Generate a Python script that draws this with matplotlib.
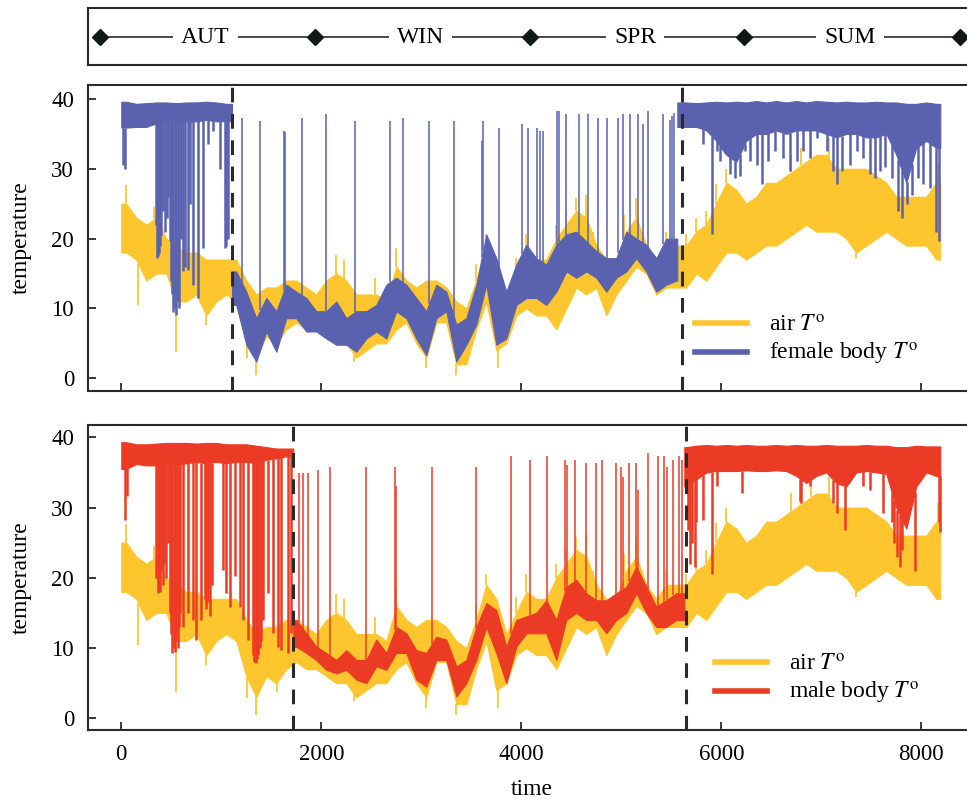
import numpy as np
import matplotlib
matplotlib.use("Agg")
import matplotlib.pyplot as plt
from matplotlib.lines import Line2D

plt.rcParams["font.family"] = ["Liberation Serif", "DejaVu Serif"]
plt.rcParams["mathtext.fontset"] = "stix"
plt.rcParams["font.size"] = 16

# ---- data ----
seasons = ["AUT", "WIN", "SPR", "SUM"]

# air temperature: dense band (lo/hi) per 100 time steps, plus isolated excursions
air_t = np.arange(50, 8200, 100)
air_lo = [18, 17, 14, 15, 15, 11, 11, 12, 9, 11,
          12, 11, 6, 3, 6, 5, 7, 8, 7, 7,
          6, 5, 5, 3, 4, 5, 5, 7, 8, 5,
          3, 8, 8, 2, 2, 7, 11, 4, 5, 9,
          10, 9, 9, 7, 10, 13, 12, 13, 9, 12,
          14, 16, 15, 12, 13, 13, 13, 15, 14, 16,
          18, 18, 17, 18, 19, 19, 20, 21, 22, 21,
          21, 21, 20, 18, 19, 20, 21, 20, 19, 19,
          19, 17]
air_hi = [25, 23, 22, 23, 20, 19, 18, 18, 17, 17,
          17, 17, 14, 12, 13, 13, 14, 14, 13, 12,
          14, 15, 14, 12, 12, 12, 11, 16, 14, 13,
          14, 14, 13, 11, 10, 14, 19, 17, 12, 15,
          18, 17, 17, 20, 22, 24, 23, 19, 17, 17,
          21, 23, 19, 17, 19, 19, 19, 21, 22, 25,
          28, 27, 25, 26, 28, 28, 29, 30, 31, 32,
          32, 30, 30, 30, 30, 29, 28, 26, 26, 26,
          26, 28]
air_spike_t = [50, 170, 330, 550, 850, 1260, 1350, 1560, 2150, 2230,
               2330, 2540, 2750, 3050, 3350, 3550, 3650, 3770, 3950, 4050,
               4350, 4450, 4550, 4650, 4720, 5030, 5150, 5450, 5650, 5750,
               5850, 5950, 6050, 6700, 6800, 6900, 7080, 7350, 8170]
air_spike_v = [27.7, 10.5, 24.5, 3.8, 7.6, 2.9, 0.5, 3.8, 17.7, 17.0,
               2.4, 14.4, 18.7, 1.4, 0.5, 16.3, 20.6, 1.4, 17.2, 20.6,
               22.0, 24.0, 25.8, 26.3, 21.0, 23.4, 25.8, 21.0, 20.6, 23.0,
               24.0, 27.8, 30.0, 32.0, 33.0, 34.0, 34.4, 17.2, 30.6]

# female body temperature
fem_switch = [1107, 5560]
fem_dashes = [1107, 5610]
fem_aut_t = np.arange(50, 1100, 100)
fem_aut_lo = [35.9, 36.0, 36.0, 36.5, 36.8, 36.8, 36.8, 36.8, 37.0, 36.8, 36.8]
fem_aut_hi = [39.6, 39.3, 39.4, 39.5, 39.5, 39.4, 39.5, 39.5, 39.6, 39.5, 39.3]
fem_win_t = np.arange(1150, 5600, 100)
fem_win_lo = [10.5, 4.8, 2.4, 6.7, 3.8, 8.6, 8.6, 6.7, 6.7, 5.7,
              4.8, 4.8, 3.8, 5.7, 6.7, 5.7, 9.6, 8.6, 5.7, 3.3,
              8.6, 9.6, 2.4, 4.8, 7.7, 13.4, 4.8, 5.7, 10.5, 11.5,
              11.5, 10.5, 12.4, 15.3, 14.4, 15.3, 14.4, 12.4, 14.4, 15.3,
              17.2, 15.3, 12.4, 13.4, 14.0]
fem_win_hi = [15.3, 12.4, 8.6, 11.5, 9.6, 13.4, 12.4, 11.5, 9.6, 9.6,
              11.0, 8.6, 9.6, 9.6, 10.5, 13.4, 14.4, 13.4, 11.5, 9.6,
              13.4, 12.4, 7.7, 8.6, 13.4, 20.6, 17.2, 12.4, 16.3, 19.1,
              17.2, 16.3, 19.1, 20.6, 21.0, 19.6, 18.2, 17.2, 17.2, 21.0,
              20.0, 19.1, 17.2, 20.0, 20.0]
fem_sum_t = np.arange(5650, 8200, 100)
fem_sum_lo = [36, 36, 35.5, 34, 32, 31, 34, 35, 35, 35.5,
              35, 35.5, 35.5, 35.5, 35, 34.5, 35, 35, 34.5, 34.5,
              35, 32, 28, 33, 34, 33]
fem_sum_hi = [39.5, 39.4, 39.5, 39.6, 39.5, 39.6, 39.5, 39.7, 39.5, 39.7,
              39.5, 39.7, 39.5, 39.7, 39.6, 39.5, 39.6, 39.5, 39.5, 39.6,
              39.5, 39.5, 39.3, 39.3, 39.5, 39.3]
fem_spike_t = [1207, 1390, 1628, 1638, 1810, 2043, 2333, 2687, 2820, 3077,
               3327, 3605, 3620, 3780, 4003, 4070, 4153, 4187, 4220, 4353,
               4377, 4447, 4577, 4670, 4770, 4853, 4970, 5020, 5087, 5163,
               5220, 5270, 5420, 5490, 5510, 5530]
fem_spike_v = [37.3, 36.8, 35.4, 35.2, 37.3, 37.8, 36.8, 36.8, 37.3, 36.8,
               36.8, 34.0, 36.8, 35.9, 36.4, 35.9, 35.9, 35.4, 35.4, 38.3,
               38.3, 37.8, 37.8, 37.8, 37.3, 37.3, 37.3, 37.8, 37.8, 37.8,
               36.4, 38.3, 37.8, 37.0, 37.5, 38.0]
fem_dip_t = [20, 40, 345, 355, 365, 375, 385, 400, 420, 433,
             455, 470, 483, 500, 510, 520, 535, 550, 565, 580,
             595, 620, 640, 665, 690, 717, 767, 817, 867, 917,
             990, 1035, 1050, 1067, 5820, 5903, 5953, 5987, 6037, 6087,
             6137, 6187, 6237, 6287, 6353, 6403, 6470, 6537, 6620, 6687,
             6753, 6820, 6887, 6953, 7053, 7120, 7153, 7203, 7287, 7353,
             7420, 7487, 7537, 7587, 7637, 7703, 7770, 7803, 7853, 7903,
             7970, 8020, 8087, 8147, 8180]
fem_dip_v = [30.6, 30.0, 22.0, 17.2, 17.5, 18.0, 19.0, 20.5, 24.0, 21.0,
             23.0, 26.0, 19.6, 14.0, 12.0, 9.5, 10.0, 9.1, 11.0, 10.0,
             20.0, 15.3, 16.0, 15.5, 25.0, 13.4, 11.5, 18.7, 33.5, 35.4,
             30.0, 18.7, 19.0, 20.0, 33.5, 20.6, 32.5, 31.1, 32.5, 29.2,
             28.7, 29.0, 32.5, 31.1, 30.6, 27.8, 31.1, 32.5, 31.6, 29.7,
             31.1, 32.5, 31.6, 34.4, 32.5, 29.7, 27.8, 29.7, 30.6, 32.5,
             31.6, 29.2, 28.7, 29.7, 30.2, 28.7, 23.9, 23.0, 24.9, 26.3,
             28.7, 27.8, 27.3, 21.0, 19.6]

# male body temperature
male_switch = [1720, 5630]
male_dashes = [1717, 5647]
male_aut_t = np.arange(50, 1700, 100)
male_aut_lo = [35.5, 36.2, 36.0, 36.0, 36.3, 36.0, 36.3, 36.5, 36.3, 36.5,
               36.3, 36.5, 36.5, 36.3, 36.8, 37.0, 37.3]
male_aut_hi = [39.3, 39.0, 39.0, 39.1, 39.2, 39.2, 39.2, 39.1, 39.2, 39.2,
               39.0, 39.0, 39.0, 38.8, 38.6, 38.4, 38.4]
male_win_t = np.arange(1750, 5600, 100)
male_win_lo = [10.2, 9.3, 8.3, 6.9, 6.4, 6.9, 5.5, 5.0, 7.4, 6.9,
               9.3, 9.3, 5.5, 4.5, 8.3, 8.3, 3.1, 5.0, 8.3, 13.0,
               9.3, 5.0, 10.2, 12.1, 12.1, 12.1, 8.3, 14.0, 15.0, 14.0,
               14.0, 12.1, 14.0, 15.0, 17.8, 15.0, 13.0, 13.0, 14.0]
male_win_hi = [14.0, 12.1, 10.2, 9.3, 8.3, 9.7, 8.3, 8.3, 11.2, 9.3,
               13.0, 12.1, 9.7, 9.3, 11.6, 11.2, 7.4, 8.3, 13.0, 16.4,
               15.4, 10.2, 14.0, 14.5, 15.0, 16.8, 14.0, 18.7, 19.7, 17.8,
               16.8, 16.8, 17.8, 18.7, 21.6, 18.7, 15.9, 16.8, 17.8]
male_sum_t = np.arange(5650, 8200, 100)
male_sum_lo = [33, 34, 35, 35.2, 35.2, 35.2, 35.3, 35.2, 35.2, 35.3,
               35.2, 34.5, 33.5, 34.5, 35.0, 33.5, 33.0, 35.0, 35.2, 35.0,
               34.8, 30.0, 27.0, 33.0, 35.0, 34.5]
male_sum_hi = [38.6, 38.8, 38.9, 38.8, 38.9, 38.8, 38.9, 38.8, 38.8, 38.9,
               38.8, 38.9, 38.8, 38.8, 38.9, 38.8, 38.8, 38.8, 38.9, 38.8,
               38.8, 38.6, 38.6, 38.8, 38.7, 38.7]
male_spike_t = [1773, 1817, 1867, 1967, 2083, 2450, 2737, 2750, 3103, 3547,
                3897, 4087, 4253, 4437, 4453, 4537, 4643, 4747, 4803, 4943,
                4993, 5020, 5077, 5147, 5163, 5263, 5363, 5430, 5453, 5520,
                5577, 5603]
male_spike_v = [34.9, 34.9, 34.9, 35.4, 35.8, 35.8, 35.8, 33.0, 35.8, 35.8,
                37.3, 36.8, 37.3, 36.8, 36.1, 36.8, 36.3, 36.3, 36.8, 36.3,
                35.8, 34.4, 36.3, 36.3, 32.5, 37.7, 37.3, 37.3, 35.8, 36.8,
                37.3, 36.8]
male_dip_t = [33, 60, 350, 363, 376, 390, 403, 417, 430, 445,
              467, 483, 495, 510, 523, 537, 550, 563, 577, 590,
              617, 667, 717, 750, 800, 833, 850, 867, 883, 905,
              1017, 1050, 1083, 1133, 1183, 1217, 1267, 1317, 1330, 1343,
              1357, 1370, 1383, 1400, 1417, 1467, 1517, 1567, 1600, 1667,
              1700, 5670, 5690, 5710, 5737, 5750, 5820, 5903, 5953, 6207,
              6787, 6800, 6887, 7120, 7153, 7237, 7420, 7487, 7620, 7703,
              7730, 7760, 7787, 7810, 7870, 7937, 8150, 8175, 8190]
male_dip_v = [28.2, 31.6, 20.0, 17.8, 19.0, 18.0, 21.0, 19.0, 22.0, 20.0,
              25.0, 15.0, 12.0, 9.3, 10.0, 9.5, 11.0, 10.0, 13.0, 15.0,
              13.0, 15.0, 14.0, 11.2, 14.0, 17.0, 15.5, 16.5, 14.5, 19.0,
              21.1, 17.8, 15.9, 20.2, 15.9, 14.0, 11.2, 9.0, 8.0, 7.8,
              8.5, 9.0, 10.0, 11.0, 14.0, 17.8, 12.1, 10.2, 9.7, 9.3,
              12.1, 26.8, 22.0, 25.0, 21.6, 28.0, 28.2, 20.6, 33.0, 32.0,
              31.0, 30.6, 33.0, 30.6, 29.2, 26.8, 33.0, 32.5, 29.2, 28.0,
              25.0, 23.0, 21.6, 24.0, 29.2, 21.0, 35.0, 28.0, 26.5]

# ---- styling ----
YELLOW = "#FEC62E"
BLUE = "#5A62AF"
RED = "#EC3B24"
DARK = "#2a2a2a"
T_END = 8190


def band(ax, t0, t1, t, lo, hi, color, z):
    tt = np.r_[t0, t, t1]
    lo = np.r_[lo[0], lo, lo[-1]]
    hi = np.r_[hi[0], hi, hi[-1]]
    ax.fill_between(tt, lo, hi, color=color, lw=0.8, zorder=z)
    return tt, lo, hi


def excursions(ax, et, ev, segs, color, z, lw=1.0):
    et = np.asarray(et, float)
    ev = np.asarray(ev, float)
    for tt, lo, hi in segs:
        m = (et >= tt[0]) & (et <= tt[-1])
        if not m.any():
            continue
        l = np.interp(et[m], tt, lo)
        h = np.interp(et[m], tt, hi)
        base = np.where(ev[m] > h, h, l)
        ax.vlines(et[m], base, ev[m], color=color, lw=lw, zorder=z)


def panel(ax, segs_data, switch, dashes, spk_t, spk_v, dip_t, dip_v, color):
    air = band(ax, 0, T_END, air_t, air_lo, air_hi, YELLOW, 2)
    excursions(ax, air_spike_t, air_spike_v, [air], YELLOW, 2, lw=1.3)
    bounds = [0] + switch + [T_END]
    segs = []
    for k, (t, lo, hi) in enumerate(segs_data):
        segs.append(band(ax, bounds[k], bounds[k + 1], t, lo, hi, color, 3))
    excursions(ax, spk_t, spk_v, [segs[1]], color, 3, lw=1.1)
    excursions(ax, dip_t, dip_v, [segs[0], segs[2]], color, 3, lw=1.8)
    for s in dashes:
        ax.axvline(s, color=DARK, lw=2.2, dashes=(4.8, 3.8), zorder=5)

    ax.set_xlim(-333, 8537)
    ax.set_xticks([0, 2000, 4000, 6000, 8000])
    ax.set_yticks([0, 10, 20, 30, 40])
    ax.set_ylabel("temperature", labelpad=14, fontsize=17)
    for sp in ["left", "top", "bottom"]:
        ax.spines[sp].set_linewidth(1.5)
        ax.spines[sp].set_color(DARK)
    ax.spines["right"].set_visible(False)
    ax.tick_params(direction="in", length=6, width=1.3, color=DARK, pad=10,
                   labelsize=16.5)
    handles = [Line2D([], [], color=YELLOW, lw=4),
               Line2D([], [], color=color, lw=4)]
    return handles


fig = plt.figure(figsize=(9.67, 8.01), dpi=100)
W, H = 967, 801

# season bar
ax0 = fig.add_axes([88 / W, 1 - 65 / H, (975 - 88) / W, 57 / H])
ax0.set_xlim(88, 975)
ax0.set_ylim(0, 1)
ax0.set_xticks([])
ax0.set_yticks([])
for sp in ax0.spines.values():
    sp.set_linewidth(1.5)
    sp.set_color(DARK)
ax0.spines["right"].set_visible(False)
mark_x = [100, 315, 530, 744, 960]
ax0.plot([mark_x[0], 975], [0.5, 0.5], color=DARK, lw=1.2, zorder=1)
ax0.plot(mark_x, [0.5] * len(mark_x), ls="none", marker="D", ms=8,
         color="#101818", zorder=3)
for k, name in enumerate(seasons):
    xm = (mark_x[k] + mark_x[k + 1]) / 2 - 2
    ax0.text(xm, 0.48, name, ha="center", va="center", fontsize=17,
             zorder=2, bbox=dict(boxstyle="square,pad=0.35", fc="white", ec="none"))

# female panel
ax1 = fig.add_axes([88 / W, 1 - 390.7 / H, (975 - 88) / W, 305.7 / H])
h1 = panel(ax1, [(fem_aut_t, fem_aut_lo, fem_aut_hi),
                 (fem_win_t, fem_win_lo, fem_win_hi),
                 (fem_sum_t, fem_sum_lo, fem_sum_hi)],
           fem_switch, fem_dashes, fem_spike_t, fem_spike_v, fem_dip_t, fem_dip_v, BLUE)
ax1.set_ylim(-1.78, 42.0)
ax1.tick_params(labelbottom=False)
ax1.legend(h1, [r"air $T^{\rm o}$", r"female body $T^{\rm o}$"],
           loc="upper left", bbox_to_anchor=(0.684, 0.248), frameon=False,
           borderpad=0, borderaxespad=0, handlelength=2.2, handletextpad=0.95,
           labelspacing=0.2, fontsize=17)

# male panel
ax2 = fig.add_axes([88 / W, 1 - 730 / H, (975 - 88) / W, 305 / H])
h2 = panel(ax2, [(male_aut_t, male_aut_lo, male_aut_hi),
                 (male_win_t, male_win_lo, male_win_hi),
                 (male_sum_t, male_sum_lo, male_sum_hi)],
           male_switch, male_dashes, male_spike_t, male_spike_v, male_dip_t, male_dip_v, RED)
ax2.set_ylim(-1.67, 41.75)
ax2.set_xlabel("time", labelpad=10, fontsize=17)
ax2.legend(h2, [r"air $T^{\rm o}$", r"male body $T^{\rm o}$"],
           loc="upper left", bbox_to_anchor=(0.707, 0.25), frameon=False,
           borderpad=0, borderaxespad=0, handlelength=2.2, handletextpad=0.95,
           labelspacing=0.2, fontsize=17)

fig.savefig("out.png", dpi=100)
